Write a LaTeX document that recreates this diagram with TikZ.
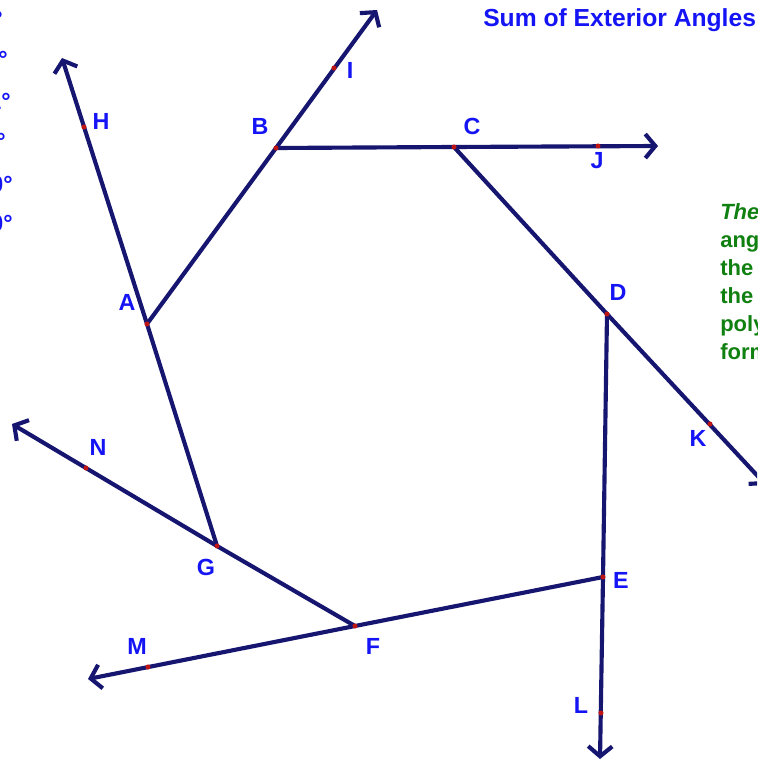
\documentclass[tikz,border=0pt]{standalone}
\usepackage{fontspec}
\setmainfont{Liberation Sans}
\usetikzlibrary{arrows.meta}
\definecolor{linecol}{RGB}{22,22,112}
\definecolor{lblcol}{RGB}{20,20,245}
\definecolor{ptcol}{RGB}{190,20,20}
\definecolor{txtgreen}{RGB}{16,128,16}
\tikzset{
  edge/.style={draw=linecol, line width=3.1pt, line cap=round, line join=round},
  ray/.style={edge, -{Straight Barb[length=7.5pt,width=18pt,line width=3.1pt]}},
  lbl/.style={text=lblcol, font=\fontsize{17.5}{20}\selectfont\bfseries, inner sep=0pt},
  frag/.style={text=lblcol, font=\fontsize{17.5}{20}\selectfont\bfseries, inner sep=0pt, anchor=east},
  note/.style={text=txtgreen, font=\fontsize{16.5}{21}\selectfont\bfseries, inner sep=0pt, anchor=north west, align=left},
}
\begin{document}
\begin{tikzpicture}[x=0.75pt,y=-0.75pt]
\useasboundingbox (0,0) rectangle (757,762);
\clip (0,0) rectangle (757,762);
% vertices
\coordinate (A) at (147,324);
\coordinate (B) at (276,148);
\coordinate (C) at (454,147);
\coordinate (D) at (607,314);
\coordinate (E) at (603,577);
\coordinate (F) at (355,626);
\coordinate (G) at (217,546);
% points on rays
\coordinate (H) at (84,127);
\coordinate (I) at (334,68);
\coordinate (J) at (598,146);
\coordinate (K) at (710,424);
\coordinate (L) at (601,713);
\coordinate (M) at (148,667);
\coordinate (N) at (86,468);
% arrow tips
\coordinate (tH) at (62,58);
\coordinate (tI) at (377,10);
\coordinate (tJ) at (658,146);
\coordinate (tK) at (766,485);
\coordinate (tL) at (600,759);
\coordinate (tM) at (88,679);
\coordinate (tN) at (12,424);
% polygon
\draw[edge] (A) -- (B) -- (C) -- (D) -- (E) -- (F) -- (G) -- cycle;
% rays
\draw[ray] (A) -- (tH);
\draw[ray] (B) -- (tI);
\draw[ray] (C) -- (tJ);
\draw[ray] (D) -- (tK);
\draw[ray] (E) -- (tL);
\draw[ray] (F) -- (tM);
\draw[ray] (G) -- (tN);
% points
\foreach \p in {A,B,C,D,E,F,G,H,I,J,K,L,M,N}
  \fill[ptcol] (\p) circle (1.9pt);
% labels
\node[lbl] (lA) at (127,302) {A};
\node[lbl] (lB) at (260,126) {B};
\node[lbl] (lC) at (472,126) {C};
\node[lbl] (lD) at (618,292) {D};
\node[lbl] (lE) at (621,580) {E};
\node[lbl] (lF) at (373,646) {F};
\node[lbl] (lG) at (206,567) {G};
\node[lbl] (lH) at (101,121) {H};
\node[lbl] (lI) at (350,70) {I};
\node[lbl] (lJ) at (597,161) {J};
\node[lbl] (lK) at (698,438) {K};
\node[lbl] (lL) at (581,705) {L};
\node[lbl] (lM) at (137,646) {M};
\node[lbl] (lN) at (98,447) {N};
% title
\node[text=lblcol, font=\fontsize{18.5}{22}\selectfont\bfseries, inner sep=0pt, anchor=west] (title) at (483,20) {Sum of Exterior Angles};
% cut-off measures at left edge
\node[frag] (f1) at (3,20) {= 45°};
\node[frag] (f2) at (8,60) {= 55°};
\node[frag] (f3) at (11,101) {= 61°};
\node[frag] (f4) at (6,141) {= 48°};
\node[frag] (f5) at (13,184) {= 360°};
\node[frag] (f6) at (13,223) {= 360°};
% green note cut off at right edge
\node[note] (note) at (720,203) {\textit{The} sum of the exterior\\angles of a polygon is\\the same no matter\\the number of sides the\\polygon has, and they\\form 360°};
\end{tikzpicture}
\end{document}
